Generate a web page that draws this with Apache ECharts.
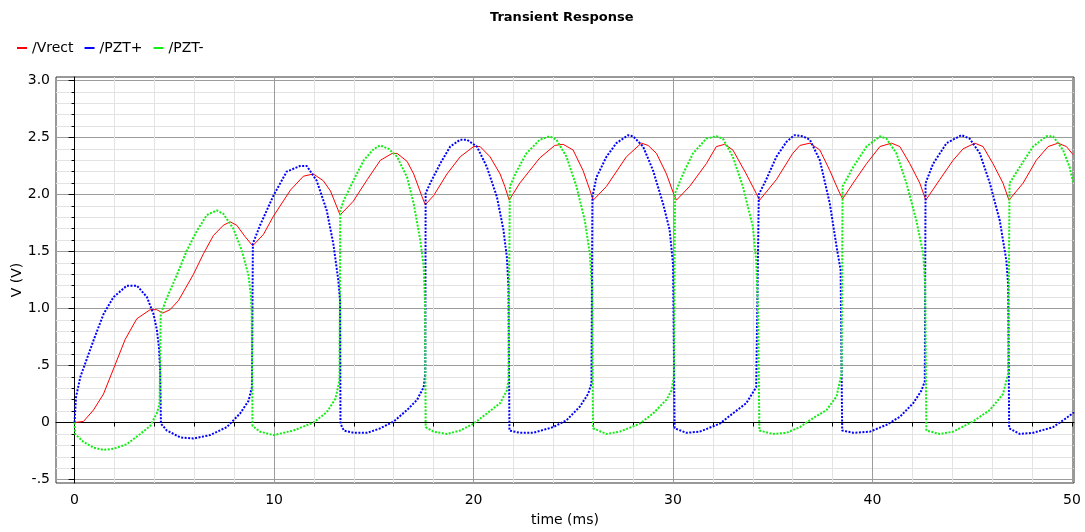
<!DOCTYPE html>
<html>
<head>
<meta charset="utf-8">
<title>Transient Response</title>
<script src="https://cdn.jsdelivr.net/npm/echarts@6/dist/echarts.min.js"></script>
<style>
  html, body { margin: 0; padding: 0; background: #ffffff; }
  #chart { width: 1085px; height: 532px; }
</style>
</head>
<body>
<div id="chart"></div>
<script>
// Transient simulation waveforms: [time (ms), voltage (V)]
const vrect = [
  [0,0],[0.45,0.01],[0.95,0.11],[1.45,0.25],[1.95,0.47],[2.54,0.73],[3.12,0.91],[3.79,0.99],[4.12,0.99],[4.42,0.96],
  [4.79,0.99],[5.21,1.07],[5.96,1.30],[6.46,1.48],[6.96,1.64],[7.46,1.73],[7.8,1.76],[8.13,1.73],[8.55,1.63],[8.93,1.55],
  [9.47,1.65],[9.97,1.81],[10.83,2.04],[11.47,2.16],[11.97,2.18],[12.47,2.12],[12.83,2.03],[13.31,1.82],[13.97,1.94],
  [14.67,2.13],[15.33,2.30],[15.92,2.36],[16.17,2.36],[16.67,2.29],[17.0,2.18],[17.42,1.98],[17.58,1.91],[18.0,1.99],
  [18.67,2.18],[19.33,2.33],[20.0,2.42],[20.33,2.42],[20.83,2.33],[21.33,2.18],[21.57,2.07],[21.79,1.95],[22.32,2.10],
  [23.32,2.32],[24.07,2.43],[24.49,2.44],[24.99,2.39],[25.49,2.21],[25.83,2.04],[26.0,1.95],[26.66,2.07],[27.66,2.33],
  [28.41,2.45],[28.75,2.43],[29.17,2.36],[29.67,2.18],[30.0,2.02],[30.17,1.95],[30.83,2.07],[31.67,2.27],[32.17,2.42],
  [32.59,2.44],[33.0,2.39],[33.67,2.18],[34.17,2.01],[34.34,1.95],[35.18,2.13],[36.0,2.36],[36.36,2.43],[36.86,2.45],
  [37.36,2.39],[37.86,2.21],[38.28,2.04],[38.5,1.96],[39.03,2.10],[39.7,2.27],[40.37,2.42],[40.95,2.45],[41.37,2.42],
  [41.87,2.27],[42.37,2.10],[42.67,1.95],[43.37,2.13],[44.04,2.30],[44.54,2.40],[45.13,2.45],[45.54,2.42],[46.04,2.27],
  [46.54,2.10],[46.84,1.95],[47.55,2.10],[48.21,2.30],[48.8,2.42],[49.3,2.45],[49.72,2.42],[50.05,2.35]
];

const pztPlus = [
  [0,0],[0.07,0.22],[0.29,0.40],[0.62,0.56],[0.95,0.72],[1.45,0.95],[1.95,1.10],[2.62,1.20],[3.13,1.20],[3.63,1.10],
  [3.96,0.95],[4.13,0.81],[4.23,0.66],[4.29,0.46],[4.33,-0.01],[4.63,-0.07],[5.3,-0.13],[5.96,-0.14],[6.8,-0.11],
  [7.63,-0.04],[8.3,0.08],[8.72,0.19],[8.89,0.31],[8.94,1.57],[9.3,1.73],[9.97,1.99],[10.63,2.20],[11.3,2.25],
  [11.64,2.25],[12.14,2.12],[12.64,1.86],[12.97,1.57],[13.22,1.25],[13.31,1.07],[13.33,-0.01],[13.5,-0.07],[14.0,-0.09],
  [14.67,-0.09],[15.33,-0.05],[16.0,0.01],[16.67,0.11],[17.17,0.20],[17.5,0.31],[17.58,0.43],[17.6,2.01],[17.83,2.10],
  [18.33,2.27],[18.83,2.42],[19.33,2.48],[19.67,2.48],[20.17,2.42],[20.67,2.24],[21.17,1.98],[21.5,1.69],[21.67,1.45],
  [21.75,1.19],[21.8,-0.07],[22.32,-0.09],[22.99,-0.09],[23.99,-0.04],[24.66,0.02],[25.33,0.14],[25.74,0.25],
  [25.91,0.34],[25.96,1.98],[26.16,2.15],[26.66,2.33],[27.16,2.45],[27.75,2.52],[28.0,2.51],[28.5,2.42],[29.0,2.21],
  [29.5,1.92],[29.83,1.69],[30.0,1.39],[30.08,-0.05],[30.67,-0.09],[31.34,-0.08],[32.34,-0.01],[33.0,0.08],
  [33.67,0.17],[34.17,0.31],[34.3,2.00],[34.67,2.13],[35.18,2.33],[35.68,2.46],[36.09,2.52],[36.51,2.51],[36.86,2.48],
  [37.36,2.30],[37.86,1.92],[38.2,1.54],[38.4,1.34],[38.48,-0.07],[39.03,-0.09],[39.87,-0.08],[40.7,-0.02],
  [41.37,0.05],[42.04,0.17],[42.45,0.28],[42.62,0.36],[42.66,2.10],[43.04,2.27],[43.71,2.45],[44.46,2.52],[44.87,2.49],
  [45.38,2.36],[45.88,2.10],[46.38,1.77],[46.71,1.42],[46.8,1.20],[46.85,-0.05],[47.38,-0.10],[48.05,-0.09],
  [49.05,-0.04],[49.72,0.04],[50.1,0.09]
];

const pztMinus = [
  [0,0],[0.03,-0.10],[0.45,-0.17],[0.95,-0.22],[1.45,-0.24],[1.95,-0.23],[2.62,-0.19],[3.29,-0.10],[3.79,-0.03],
  [4.12,0.08],[4.26,0.16],[4.32,0.95],[4.62,1.09],[5.12,1.29],[5.63,1.51],[6.13,1.68],[6.63,1.82],[7.13,1.86],
  [7.46,1.83],[7.96,1.70],[8.38,1.51],[8.71,1.30],[8.83,1.13],[8.88,0.98],[8.92,-0.03],[9.3,-0.08],[9.97,-0.11],
  [10.97,-0.07],[11.97,0.00],[12.64,0.09],[13.08,0.21],[13.28,0.37],[13.32,1.86],[13.5,1.95],[14.0,2.13],[14.5,2.30],
  [15.0,2.40],[15.33,2.43],[15.75,2.40],[16.17,2.33],[16.67,2.15],[17.0,1.92],[17.33,1.60],[17.5,1.37],[17.57,1.05],
  [17.6,-0.04],[18.0,-0.08],[18.67,-0.10],[19.33,-0.07],[20.0,-0.01],[20.67,0.08],[21.33,0.17],[21.67,0.28],
  [21.75,0.37],[21.82,2.07],[22.15,2.20],[22.65,2.36],[23.32,2.48],[23.82,2.51],[24.16,2.48],[24.66,2.33],[25.16,2.07],
  [25.58,1.77],[25.83,1.48],[25.93,1.20],[25.99,-0.05],[26.66,-0.10],[27.33,-0.08],[28.33,-0.01],[29.0,0.08],
  [29.67,0.20],[29.92,0.28],[30.04,0.40],[30.1,2.01],[30.5,2.18],[31.0,2.36],[31.67,2.49],[32.17,2.51],[32.5,2.49],
  [33.0,2.33],[33.5,2.07],[34.0,1.72],[34.17,1.42],[34.26,1.00],[34.33,-0.07],[35.0,-0.10],[35.68,-0.09],[36.36,-0.04],
  [37.03,0.04],[37.7,0.11],[38.2,0.23],[38.45,0.43],[38.5,2.07],[39.03,2.24],[39.7,2.42],[40.37,2.51],[40.7,2.49],
  [41.2,2.36],[41.7,2.10],[42.2,1.77],[42.54,1.48],[42.64,1.20],[42.7,-0.07],[43.37,-0.10],[44.04,-0.08],[45.04,0.01],
  [45.88,0.11],[46.54,0.25],[46.8,0.43],[46.87,2.10],[47.38,2.24],[48.05,2.42],[48.71,2.51],[49.05,2.51],[49.55,2.39],
  [49.88,2.24],[50.05,2.11]
];

// Axis ticks and their labels
const xTicks = [0, 10, 20, 30, 40, 50];
const xTickLabels = ['0', '10', '20', '30', '40', '50'];
const xMinorTicks = [0, 2, 4, 6, 8, 10, 12, 14, 16, 18, 20, 22, 24, 26, 28, 30, 32, 34, 36, 38, 40, 42, 44, 46, 48, 50];
const yTicks = [-0.5, 0, 0.5, 1.0, 1.5, 2.0, 2.5, 3.0];
const yTickLabels = ['-.5', '0', '.5', '1.0', '1.5', '2.0', '2.5', '3.0'];
const yMinorTicks = [-0.5, -0.4, -0.3, -0.2, -0.1, 0, 0.1, 0.2, 0.3, 0.4, 0.5, 0.6, 0.7, 0.8, 0.9, 1.0,
  1.1, 1.2, 1.3, 1.4, 1.5, 1.6, 1.7, 1.8, 1.9, 2.0, 2.1, 2.2, 2.3, 2.4, 2.5, 2.6, 2.7, 2.8, 2.9, 3.0];

const X_MIN = -0.93, X_MAX = 50.1;
const Y_MIN = -0.53, Y_MAX = 3.03;

const FONT = 'DejaVu Sans';
const MINOR_GRID = '#e3e3e3';
const MAJOR_GRID = '#9c9c9c';

function labelFor(ticks, labels, v) {
  for (let i = 0; i < ticks.length; i++) {
    if (Math.abs(ticks[i] - v) < 1e-6) return labels[i];
  }
  return '';
}

const chart = echarts.init(document.getElementById('chart'), null, { renderer: 'canvas' });

chart.setOption({
  animation: false,
  backgroundColor: '#ffffff',
  textStyle: { fontFamily: FONT },
  title: {
    text: 'Transient Response',
    left: 485,
    top: 6,
    textStyle: { fontFamily: FONT, fontSize: 13, fontWeight: 'bold', color: '#000' }
  },
  legend: {
    left: 12,
    top: 36,
    icon: 'rect',
    itemWidth: 10,
    itemHeight: 2,
    itemGap: 11,
    textStyle: { fontFamily: FONT, fontSize: 14, color: '#000' },
    data: ['/Vrect', '/PZT+', '/PZT-']
  },
  grid: {
    left: 56, right: 11, top: 77, bottom: 49,
    show: true,
    borderColor: '#333',
    borderWidth: 1,
    containLabel: false
  },
  xAxis: [
    {
      // minor grid (every 2 ms) + tick marks + labels
      type: 'value',
      min: X_MIN, max: X_MAX,
      name: 'time (ms)',
      nameLocation: 'middle',
      nameGap: 30,
      nameTextStyle: { fontFamily: FONT, fontSize: 14, color: '#000' },
      axisLine: { show: true, lineStyle: { color: '#000' } },
      axisTick: { show: true, length: 4, lineStyle: { color: '#000' }, customValues: xMinorTicks },
      axisLabel: {
        margin: 10,
        fontFamily: FONT, fontSize: 14, color: '#000',
        customValues: xTicks,
        formatter: v => labelFor(xTicks, xTickLabels, v)
      },
      splitLine: { show: true, lineStyle: { color: MINOR_GRID, width: 1 } }
    },
    {
      // major grid (every 10 ms)
      type: 'value',
      min: X_MIN, max: X_MAX,
      position: 'bottom',
      axisLine: { show: false },
      axisTick: { show: false, customValues: xTicks },
      axisLabel: { show: false },
      splitLine: { show: true, lineStyle: { color: MAJOR_GRID, width: 1 } }
    }
  ],
  yAxis: [
    {
      // minor grid (every 0.1 V) + short ticks
      type: 'value',
      min: Y_MIN, max: Y_MAX,
      name: 'V (V)',
      nameLocation: 'middle',
      nameGap: 32,
      nameRotate: 90,
      nameTextStyle: { fontFamily: FONT, fontSize: 14, color: '#000' },
      axisLine: { show: true, lineStyle: { color: '#000' } },
      axisTick: { show: true, length: 3, lineStyle: { color: '#000' }, customValues: yMinorTicks },
      axisLabel: { show: false },
      splitLine: { show: true, lineStyle: { color: MINOR_GRID, width: 1 } }
    },
    {
      // major grid (every 0.5 V) + long ticks + labels
      type: 'value',
      min: Y_MIN, max: Y_MAX,
      position: 'left',
      axisLine: { show: false },
      axisTick: { show: true, length: 6, lineStyle: { color: '#000' }, customValues: yTicks },
      axisLabel: {
        margin: 6,
        fontFamily: FONT, fontSize: 14, color: '#000',
        customValues: yTicks,
        formatter: v => labelFor(yTicks, yTickLabels, v)
      },
      splitLine: { show: true, lineStyle: { color: MAJOR_GRID, width: 1 } }
    }
  ],
  series: [
    {
      name: '/Vrect',
      type: 'line',
      xAxisIndex: 0, yAxisIndex: 0,
      data: vrect,
      showSymbol: false,
      color: '#ff0000',
      lineStyle: { color: '#ff0000', width: 1 },
      z: 3
    },
    {
      name: '/PZT+',
      type: 'line',
      xAxisIndex: 0, yAxisIndex: 0,
      data: pztPlus,
      showSymbol: false,
      color: '#0000ff',
      lineStyle: { color: '#0000ff', width: 2, type: [2, 1.5] },
      z: 4
    },
    {
      name: '/PZT-',
      type: 'line',
      xAxisIndex: 0, yAxisIndex: 0,
      data: pztMinus,
      showSymbol: false,
      color: '#11ee11',
      lineStyle: { color: '#11ee11', width: 2, type: [2, 1.5] },
      z: 4
    }
  ]
});
</script>
</body>
</html>
